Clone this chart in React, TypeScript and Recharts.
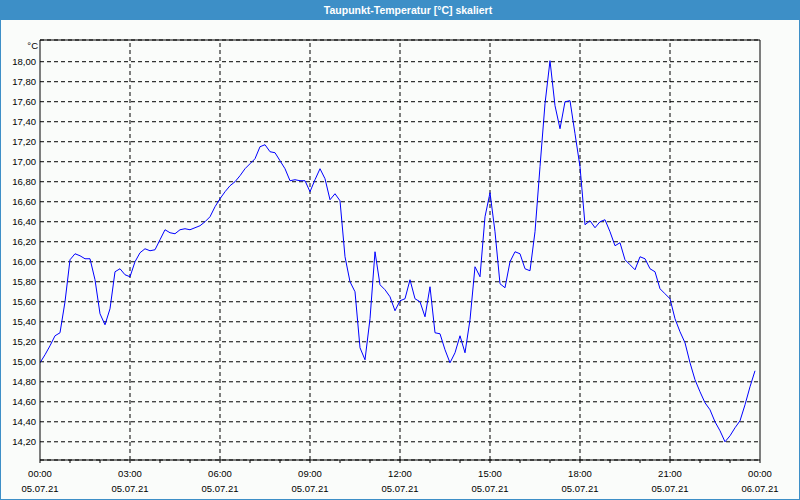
import React from 'react';
import { LineChart, Line, XAxis, YAxis, CartesianGrid, ReferenceLine } from 'recharts';

// Sampling: one reading every 10 minutes, starting at 00:00 on 05.07.21
const startMinute = 0;
const stepMinutes = 10;

// Dew point temperature [°C]
const dewPoint = [
  14.99, 15.07, 15.16, 15.26, 15.29, 15.60, 16.02, 16.08, 16.06, 16.03,
  16.03, 15.82, 15.48, 15.37, 15.53, 15.90, 15.93, 15.87, 15.85, 16.00,
  16.09, 16.13, 16.11, 16.12, 16.22, 16.32, 16.29, 16.28, 16.32, 16.33,
  16.32, 16.34, 16.36, 16.40, 16.45, 16.55, 16.63, 16.70, 16.76, 16.80,
  16.86, 16.93, 16.98, 17.03, 17.15, 17.17, 17.10, 17.09, 17.01, 16.93,
  16.81, 16.82, 16.81, 16.81, 16.70, 16.82, 16.93, 16.83, 16.62, 16.68,
  16.61, 16.05, 15.80, 15.70, 15.14, 15.02, 15.43, 16.10, 15.77, 15.72,
  15.65, 15.51, 15.61, 15.63, 15.82, 15.63, 15.60, 15.45, 15.75, 15.29,
  15.28, 15.12, 14.99, 15.09, 15.26, 15.09, 15.42, 15.95, 15.85, 16.45,
  16.69, 16.30, 15.78, 15.74, 16.00, 16.10, 16.08, 15.93, 15.91, 16.30,
  16.95, 17.58, 18.01, 17.56, 17.33, 17.60, 17.61, 17.28, 16.95, 16.37,
  16.41, 16.34, 16.40, 16.42, 16.30, 16.16, 16.19, 16.02, 15.97, 15.92,
  16.05, 16.03, 15.93, 15.90, 15.73, 15.68, 15.63, 15.43, 15.30, 15.19,
  14.99, 14.82, 14.70, 14.59, 14.52, 14.40, 14.31, 14.20, 14.26, 14.34,
  14.41, 14.57, 14.75, 14.91,
];

const yTicks = [
  14.2, 14.4, 14.6, 14.8, 15.0, 15.2, 15.4, 15.6, 15.8, 16.0,
  16.2, 16.4, 16.6, 16.8, 17.0, 17.2, 17.4, 17.6, 17.8, 18.0,
];
const yDomain: [number, number] = [14.018, 18.217];

// hourly tick marks (minutes since start)
const hourTicks = [
  0, 60, 120, 180, 240, 300, 360, 420, 480, 540, 600, 660, 720,
  780, 840, 900, 960, 1020, 1080, 1140, 1200, 1260, 1320, 1380, 1440,
];
// labelled ticks every 3 hours
const labelTicks = [0, 180, 360, 540, 720, 900, 1080, 1260, 1440];
const labelTimes = ['00:00', '03:00', '06:00', '09:00', '12:00', '15:00', '18:00', '21:00', '00:00'];
const labelDates = ['05.07.21', '05.07.21', '05.07.21', '05.07.21', '05.07.21', '05.07.21', '05.07.21', '05.07.21', '06.07.21'];
const gridMinutes = [180, 360, 540, 720, 900, 1080, 1260];

const title = 'Taupunkt-Temperatur [°C] skaliert';
const unit = '°C';

const data = dewPoint.map((v, i) => ({ t: startMinute + i * stepMinutes, v }));

const FONT = "'Liberation Sans', Arial, sans-serif";
const BLUE = '#3d8fc7';

const XTick = (props: any) => {
  const { x, y, payload } = props;
  const idx = labelTicks.indexOf(payload.value);
  if (idx < 0) return null;
  return (
    <g>
      <text x={x} y={y + 12} textAnchor="middle" fontSize={9.5} fontFamily={FONT} fill="#000">
        {labelTimes[idx]}
      </text>
      <text x={x} y={y + 27} textAnchor="middle" fontSize={9.5} fontFamily={FONT} fill="#000">
        {labelDates[idx]}
      </text>
    </g>
  );
};

const YTick = (props: any) => {
  const { x, y, payload } = props;
  return (
    <text x={x} y={y + 3.5} textAnchor="end" fontSize={9.5} fontFamily={FONT} fill="#000">
      {payload.value.toFixed(2).replace('.', ',')}
    </text>
  );
};

export default function App() {
  return (
    <div style={{ position: 'absolute', left: 0, top: 0, width: 800, height: 500, background: '#fafcfa' }}>
      <div style={{ position: 'absolute', left: 0, top: 0 }}>
        <LineChart width={800} height={500} data={data} margin={{ top: 40, right: 40, left: 0, bottom: 0 }}>
          <CartesianGrid vertical={false} stroke="#000" strokeDasharray="4 3" />
          {gridMinutes.map((m) => (
            <ReferenceLine key={m} x={m} stroke="#000" strokeDasharray="4 3" />
          ))}
          <ReferenceLine x={1440} stroke="#000" />
          <ReferenceLine y={yDomain[1]} stroke="#000" />
          <XAxis
            type="number"
            dataKey="t"
            domain={[0, 1440]}
            ticks={hourTicks}
            interval={0}
            tickSize={3}
            height={40}
            axisLine={{ stroke: '#000' }}
            tickLine={{ stroke: '#000' }}
            tick={<XTick />}
            allowDataOverflow
          />
          <YAxis
            type="number"
            domain={yDomain}
            ticks={yTicks}
            interval={0}
            width={40}
            tickLine={false}
            tickSize={0}
            tickMargin={4}
            axisLine={{ stroke: '#000' }}
            tick={<YTick />}
            allowDataOverflow
            label={{ value: unit, position: 'insideTopRight', offset: 2, fontSize: 9.5, fontFamily: FONT, fill: '#000' }}
          />
          <Line
            type="linear"
            dataKey="v"
            stroke="#0000ff"
            strokeWidth={1}
            dot={false}
            isAnimationActive={false}
          />
        </LineChart>
      </div>
      <div
        style={{
          position: 'absolute', left: 0, top: 0, width: 800, height: 500,
          boxSizing: 'border-box', border: `1px solid ${BLUE}`, pointerEvents: 'none',
        }}
      />
      <div
        style={{
          position: 'absolute', left: 0, top: 0, width: 800, height: 20, background: BLUE,
          color: '#fff', fontFamily: FONT, fontSize: 10.5, fontWeight: 'bold',
          lineHeight: '20px', textAlign: 'center', paddingLeft: 16, boxSizing: 'border-box',
        }}
      >
        {title}
      </div>
    </div>
  );
}
